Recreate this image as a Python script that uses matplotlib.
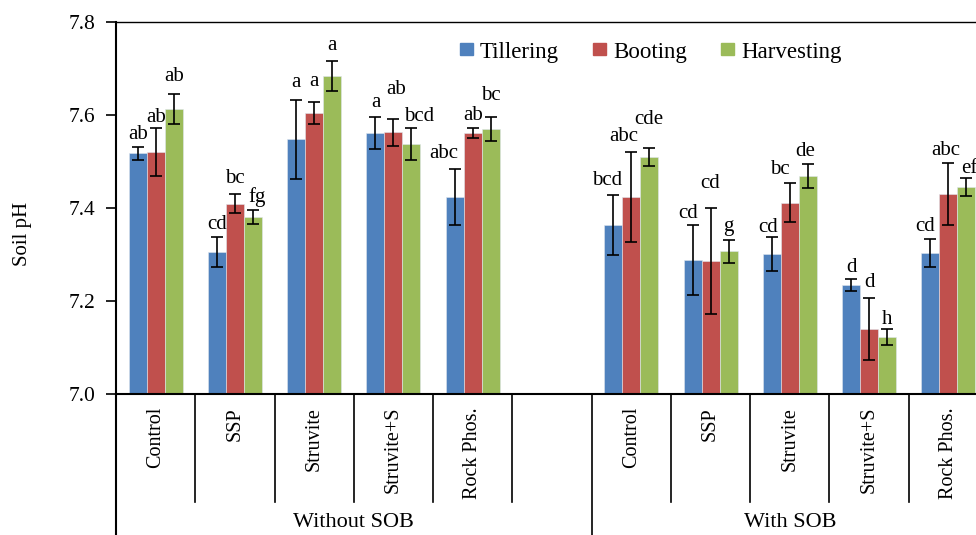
import numpy as np
import matplotlib
matplotlib.use("Agg")
import matplotlib.pyplot as plt
from matplotlib.patches import Rectangle

plt.rcParams['font.family'] = ['Liberation Serif', 'DejaVu Serif']

# data (soil pH)
treatments = ["Control", "SSP", "Struvite", "Struvite+S", "Rock Phos."]
groups = ["Without SOB", "With SOB"]
stages = ["Tillering", "Booting", "Harvesting"]
colors = ["#4F81BD", "#C0504D", "#9BBB59"]

tillering = [7.518, 7.305, 7.548, 7.561, 7.424, 7.363, 7.288, 7.301, 7.234, 7.303]
booting = [7.520, 7.409, 7.604, 7.563, 7.561, 7.424, 7.286, 7.411, 7.140, 7.430]
harvesting = [7.613, 7.381, 7.684, 7.538, 7.570, 7.510, 7.307, 7.469, 7.123, 7.445]

tillering_err = [0.014, 0.033, 0.085, 0.035, 0.060, 0.065, 0.075, 0.037, 0.013, 0.031]
booting_err = [0.052, 0.020, 0.024, 0.029, 0.010, 0.097, 0.114, 0.042, 0.067, 0.067]
harvesting_err = [0.032, 0.015, 0.032, 0.034, 0.026, 0.019, 0.025, 0.026, 0.017, 0.019]

tillering_lab = ["ab", "cd", "a", "a", "abc", "bcd", "cd", "cd", "d", "cd"]
booting_lab = ["ab", "bc", "a", "ab", "ab", "abc", "cd", "bc", "d", "abc"]
harvesting_lab = ["ab", "fg", "a", "bcd", "bc", "cde", "g", "de", "h", "ef"]

series = [tillering, booting, harvesting]
errs = [tillering_err, booting_err, harvesting_err]
labs = [tillering_lab, booting_lab, harvesting_lab]

# letter placement: gap above the error bar and sideways nudge, in pixels
gap_px = [[12, 12, 17, 14, 15, 14, 12, 9, 12, 12],
          [11, 16, 20, 29, 13, 15, 24, 14, 15, 12],
          [18, 13, 16, 12, 21, 28, 13, 12, 9, 10]]
dx_px = [[0, 0, 0, 0, -11, -6, -4, -4, 0, -5],
         [0, 0, 0, 3, 0, -8, 0, -10, 0, -3],
         [0, 4, 0, 8, 0, 0, 0, -3, 0, 3]]

# slot layout: 5 treatments, an empty slot, 5 treatments
slots = np.array([0, 1, 2, 3, 4, 6, 7, 8, 9, 10]) + 0.5
n_slots = 11
w = 0.227
px_y = 0.8 / 372.0   # data units per pixel (y)
px_x = 1 / 79.3      # data units per pixel (x)

fig = plt.figure(figsize=(9.76, 5.35), dpi=100)
ax = fig.add_axes([0.1189, 0.2636, 0.8934, 0.6953])

for k in range(3):
    xs = slots + (k - 1) * w
    ax.bar(xs, np.array(series[k]) - 7.0, bottom=7.0, width=w, color=colors[k],
           edgecolor="#dfe6ee", linewidth=0.4, zorder=2)
    ax.errorbar(xs, series[k], yerr=errs[k], fmt="none", ecolor="black",
                elinewidth=1.2, capsize=4.5, capthick=1.2, zorder=3)
    for j, (x, v, e, t) in enumerate(zip(xs, series[k], errs[k], labs[k])):
        ax.text(x + dx_px[k][j] * px_x, v + e + gap_px[k][j] * px_y, t,
                ha="center", va="center", fontsize=15)

ax.set_xlim(0, n_slots)
ax.set_ylim(7.0, 7.8)
ticks = np.arange(7.0, 7.81, 0.2)
ax.set_yticks(ticks)
ax.set_yticklabels([f"{v:.1f}" for v in ticks], fontsize=15.5)
ax.tick_params(axis="y", direction="out", length=7, width=1.2, pad=8)
ax.set_xticks([])
for s in ["left", "bottom"]:
    ax.spines[s].set_linewidth(1.5)
ax.spines["top"].set_linewidth(1.0)
ax.spines["right"].set_visible(False)

fig.text(22 / 976, 1 - 234 / 535, "Soil pH", rotation=90, ha="center", va="center",
         fontsize=15)

# category separators and labels below the axis
trans = ax.get_xaxis_transform()
for b in range(1, n_slots):
    y_end = -0.379 if b == 6 else -0.29
    ax.plot([b, b], [0, y_end], color="black", lw=1.2, transform=trans, clip_on=False)
ax.plot([0, 0], [0, -0.379], color="black", lw=1.5, transform=trans, clip_on=False)

for i, x in enumerate(slots):
    ax.text(x, -0.035, treatments[i % 5], rotation=90, ha="center", va="top",
            fontsize=14.5, transform=trans)

ax.text(3.0, -0.345, groups[0], ha="center", va="center", fontsize=16, transform=trans)
ax.text(8.5, -0.345, groups[1], ha="center", va="center", fontsize=16, transform=trans)

handles = [Rectangle((0, 0), 1, 1, color=c) for c in colors]
fig.legend(handles, stages, loc="center left", bbox_to_anchor=(460 / 976, 1 - 52 / 535),
           ncol=3, frameon=False, fontsize=16.5, borderpad=0, borderaxespad=0,
           handlelength=0.57, handleheight=0.45, handletextpad=0.3, columnspacing=1.5)

fig.savefig("out.png", dpi=100)
